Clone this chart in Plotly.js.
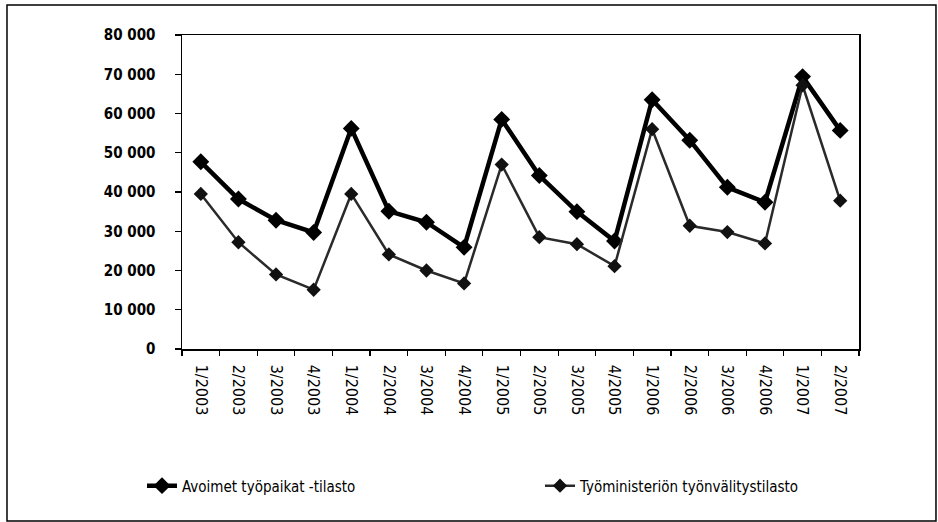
<!DOCTYPE html>
<html>
<head>
<meta charset="utf-8">
<script src="https://cdn.plot.ly/plotly-3.0.1.min.js"></script>
<style>html,body{margin:0;padding:0;background:#fff;}#chart{width:938px;height:522px;}</style>
</head>
<body>
<div id="chart"></div>
<script>
const categories = ["1/2003","2/2003","3/2003","4/2003","1/2004","2/2004","3/2004","4/2004","1/2005","2/2005","3/2005","4/2005","1/2006","2/2006","3/2006","4/2006","1/2007","2/2007"];
const avoimet = [47700,38200,32800,29700,56200,35100,32300,25900,58500,44200,35000,27500,63500,53200,41200,37400,69400,55700];
const tyoministerio = [39500,27200,19000,15100,39500,24100,20000,16700,47000,28500,26700,21100,56000,31400,29800,26900,67200,37800];
const seriesNames = ["Avoimet työpaikat -tilasto","Työministeriön työnvälitystilasto"];
const yTicks = [0,10000,20000,30000,40000,50000,60000,70000,80000];

const FONT = '"Liberation Sans Narrow", "DejaVu Sans Condensed", "Liberation Sans", sans-serif';

const data = [
  {x: categories, y: avoimet, name: seriesNames[0], type: 'scatter', mode: 'lines+markers',
   line: {color: '#000', width: 4.5}, marker: {symbol: 'diamond', size: 13, color: '#000'}},
  {x: categories, y: tyoministerio, name: seriesNames[1], type: 'scatter', mode: 'lines+markers',
   line: {color: '#2a2a2a', width: 2.5}, marker: {symbol: 'diamond', size: 11, color: '#111'}}
];

const layout = {
  width: 938, height: 522,
  margin: {l: 182, r: 79, t: 35, b: 173},
  paper_bgcolor: '#fff', plot_bgcolor: '#fff',
  separators: ', ',
  font: {family: FONT, color: '#000', size: 13},
  showlegend: true,
  legend: {orientation: 'h', x: -0.0561, y: -0.436, xanchor: 'left', yanchor: 'middle',
           entrywidth: 353, entrywidthmode: 'pixels', bgcolor: 'rgba(0,0,0,0)',
           font: {family: FONT, size: 15, color: '#000'}},
  xaxis: {type: 'category', range: [-0.5, 17.5], tickson: 'boundaries', ticks: 'outside', ticklen: 5,
          tickcolor: '#000', tickwidth: 1.2, showline: true, linecolor: '#000', linewidth: 1.5, mirror: true,
          showgrid: false, zeroline: false, tickangle: 90, ticklabelstandoff: 11,
          tickfont: {family: FONT, size: 16, color: '#000'}},
  yaxis: {range: [0, 80000], tickvals: yTicks, tickformat: ',d', ticks: 'outside', ticklen: 6,
          tickcolor: '#000', tickwidth: 1.2, showline: true, linecolor: '#000', linewidth: 1.5, mirror: true,
          showgrid: false, zeroline: false, ticklabelstandoff: 16,
          tickfont: {family: FONT, size: 15, color: '#000', weight: 'bold'}},
  shapes: [
    {type: 'rect', xref: 'paper', yref: 'paper', x0: -0.2585, x1: 1.1137, y0: -0.5478, y1: 1.0955,
     line: {color: '#000', width: 1.5}, fillcolor: 'rgba(0,0,0,0)'}
  ]
};

Plotly.newPlot('chart', data, layout, {displayModeBar: false, staticPlot: true});
</script>
</body>
</html>
